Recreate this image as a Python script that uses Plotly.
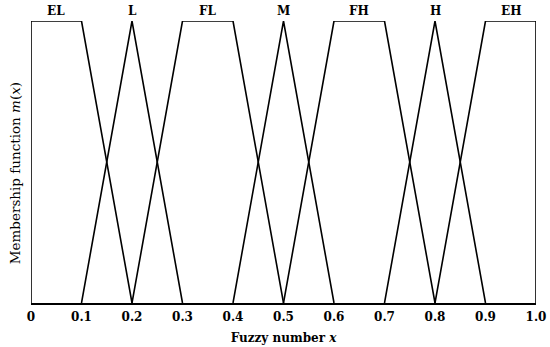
import plotly.graph_objects as go

# membership function breakpoints (x) and degrees (y)
labels = ["EL", "L", "FL", "M", "FH", "H", "EH"]
shape_x = [
    [0.0, 0.0, 0.1, 0.2],
    [0.1, 0.2, 0.3],
    [0.2, 0.3, 0.4, 0.5],
    [0.4, 0.5, 0.6],
    [0.5, 0.6, 0.7, 0.8],
    [0.7, 0.8, 0.9],
    [0.8, 0.9, 1.0, 1.0],
]
shape_y = [
    [0, 1, 1, 0],
    [0, 1, 0],
    [0, 1, 1, 0],
    [0, 1, 0],
    [0, 1, 1, 0],
    [0, 1, 0],
    [0, 1, 1, 0],
]
label_x = [0.05, 0.2, 0.35, 0.5, 0.65, 0.8, 0.95]
tick_vals = [0, 0.1, 0.2, 0.3, 0.4, 0.5, 0.6, 0.7, 0.8, 0.9, 1.0]
tick_text = ["0", "0.1", "0.2", "0.3", "0.4", "0.5", "0.6", "0.7", "0.8", "0.9", "1.0"]

FONT = "DejaVu Serif"
SIZE = 12

fig = go.Figure()
for name, xs, ys in zip(labels, shape_x, shape_y):
    fig.add_trace(
        go.Scatter(
            x=xs,
            y=ys,
            mode="lines",
            line={"color": "black", "width": 1.6},
            name=name,
            showlegend=False,
            cliponaxis=False,
        )
    )

for name, lx in zip(labels, label_x):
    fig.add_annotation(
        x=lx,
        y=1,
        text=f"<b>{name}</b>",
        showarrow=False,
        yanchor="bottom",
        yshift=1,
        font={"family": FONT, "size": SIZE, "color": "black"},
    )

# y title as an annotation so it can sit a little below centre, as in the original
fig.add_annotation(
    xref="paper",
    yref="paper",
    x=0,
    y=0.46,
    xshift=-26,
    textangle=-90,
    text="Membership function <i>m</i>(<i>x</i>)",
    showarrow=False,
    font={"family": FONT, "size": 13.5, "color": "black"},
)

fig.update_xaxes(
    range=[0, 1],
    tickvals=tick_vals,
    ticktext=[f"<b>{t}</b>" for t in tick_text],
    showgrid=False,
    zeroline=False,
    showline=True,
    linecolor="black",
    linewidth=1.6,
    ticks="",
    ticklabelstandoff=2,
    automargin=False,
    tickfont={"family": FONT, "size": SIZE, "color": "black"},
    title={
        "text": "<b>Fuzzy number <i>x</i></b>",
        "font": {"family": FONT, "size": SIZE, "color": "black"},
        "standoff": 10,
    },
)
fig.update_yaxes(
    range=[0, 1],
    showticklabels=False,
    showgrid=False,
    zeroline=False,
    showline=False,
    ticks="",
    automargin=False,
)
fig.update_layout(
    width=550,
    height=347,
    margin={"l": 31, "r": 14, "t": 21, "b": 44},
    plot_bgcolor="white",
    paper_bgcolor="white",
)
# drop the browser's default body margin so the figure sits at the corner
fig.write_html(
    "out.html",
    config={"displayModeBar": False},
    post_script="document.body.style.margin = '0';",
)
